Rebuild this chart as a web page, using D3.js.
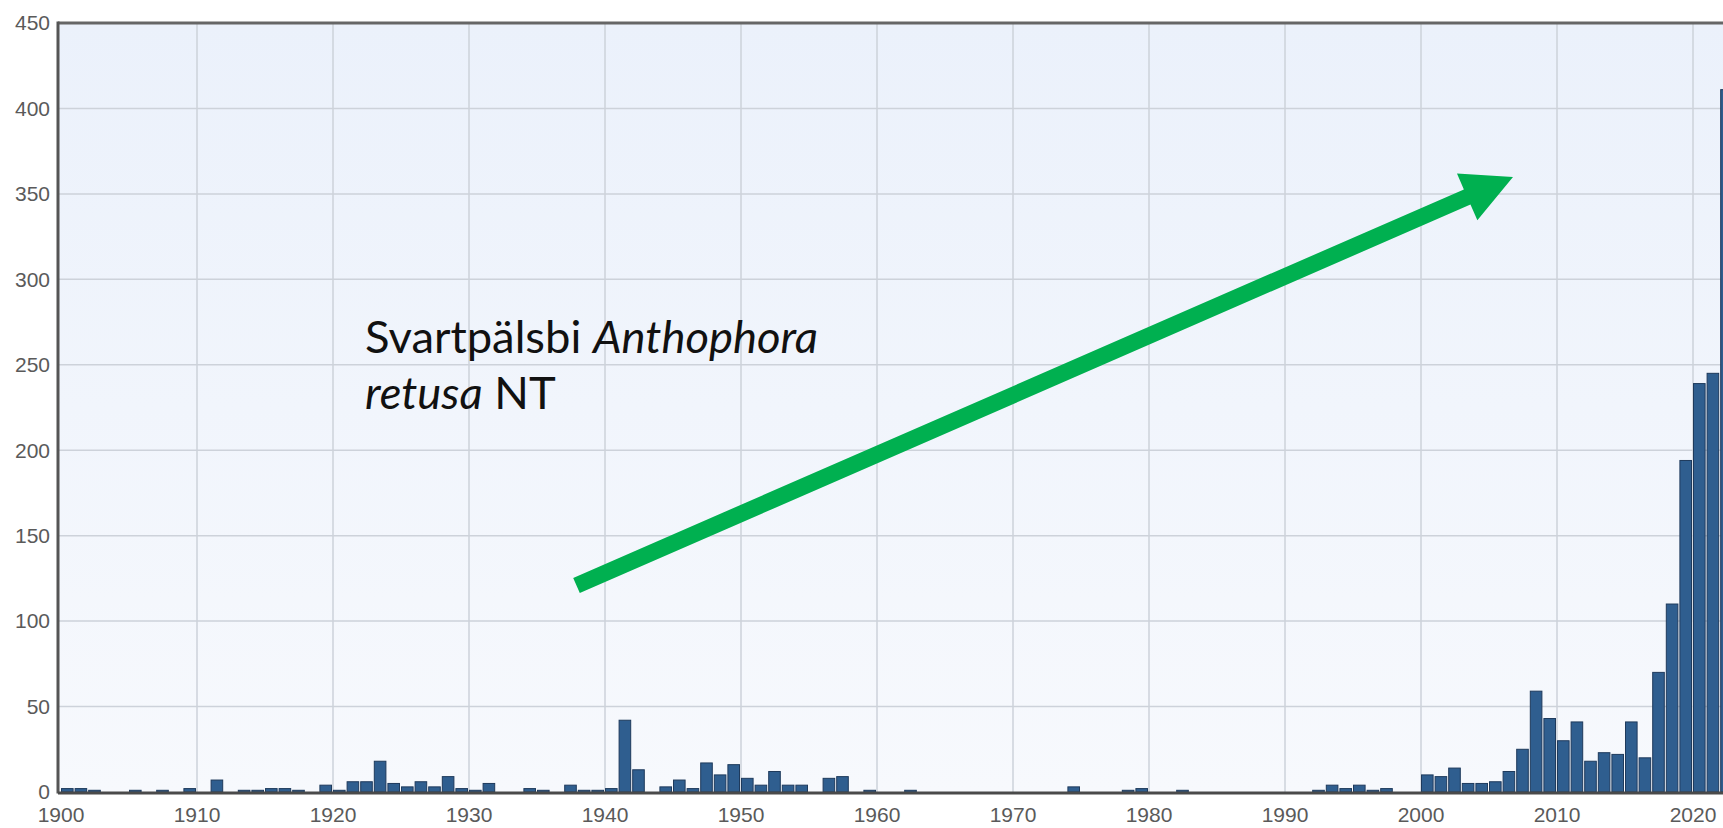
<!DOCTYPE html>
<html lang="sv">
<head>
  <meta charset="UTF-8">
  <title>Svartpälsbi Anthophora retusa</title>
  <script src="https://d3js.org/d3.v7.min.js"></script>
  <style>
    body {
      margin: 0;
      padding: 0;
      background: #fff;
      overflow: hidden;
    }
    .tick-label {
      font-family: "Liberation Sans", Arial, sans-serif;
      font-size: 21px;
      fill: #5a5a5a;
    }
    .grid line {
      stroke: #cdd2da;
      stroke-width: 1.5px;
    }
    .bar {
      fill: #2f5e8f;
      stroke: #1e3a5c;
      stroke-width: 1px;
    }
    .note {
      font-family: Lato, "Open Sans", sans-serif;
      fill: #111;
    }
  </style>
</head>
<body>
  <div id="chart"></div>

  <script>
// observations per year, 1900 -> 2022
const years = d3.range(1900, 2023);
const counts = [
  2, 2, 1, 0, 0, 1, 0, 1, 0, 2,        // 1900-1909
  0, 7, 0, 1, 1, 2, 2, 1, 0, 4,        // 1910-1919
  1, 6, 6, 18, 5, 3, 6, 3, 9, 2,       // 1920-1929
  1, 5, 0, 0, 2, 1, 0, 4, 1, 1,        // 1930-1939
  2, 42, 13, 0, 3, 7, 2, 17, 10, 16,   // 1940-1949
  8, 4, 12, 4, 4, 0, 8, 9, 0, 1,       // 1950-1959
  0, 0, 1, 0, 0, 0, 0, 0, 0, 0,        // 1960-1969
  0, 0, 0, 0, 3, 0, 0, 0, 1, 2,        // 1970-1979
  0, 0, 1, 0, 0, 0, 0, 0, 0, 0,        // 1980-1989
  0, 0, 1, 4, 2, 4, 1, 2, 0, 0,        // 1990-1999
  10, 9, 14, 5, 5, 6, 12, 25, 59, 43,  // 2000-2009
  30, 41, 18, 23, 22, 41, 20, 70, 110, 194, // 2010-2019
  239, 245, 411                        // 2020-2022
];
const xTicks = [1900, 1910, 1920, 1930, 1940, 1950, 1960, 1970, 1980, 1990, 2000, 2010, 2020];
const yTicks = [0, 50, 100, 150, 200, 250, 300, 350, 400, 450];

const width = 1723, height = 828;
const plotLeft = 58, plotTop = 23, plotBottom = 792;

const x = d3.scaleLinear().domain([1900, 2020]).range([61, 1693]);
const y = d3.scaleLinear().domain([0, 450]).range([plotBottom, plotTop]);

const svg = d3.select("#chart").append("svg")
  .attr("width", width)
  .attr("height", height);

const defs = svg.append("defs");
const grad = defs.append("linearGradient")
  .attr("id", "bg").attr("x1", 0).attr("y1", 0).attr("x2", 0).attr("y2", 1);
grad.append("stop").attr("offset", "0%").attr("stop-color", "#ebf1fb");
grad.append("stop").attr("offset", "100%").attr("stop-color", "#f7f9fd");

// plot background
svg.append("rect")
  .attr("x", plotLeft).attr("y", plotTop)
  .attr("width", width - plotLeft + 10).attr("height", plotBottom - plotTop)
  .attr("fill", "url(#bg)");

// grid
const grid = svg.append("g").attr("class", "grid");
grid.selectAll(".gy").data(yTicks.slice(1, -1)).join("line")
  .attr("x1", plotLeft).attr("x2", width + 10)
  .attr("y1", d => y(d)).attr("y2", d => y(d));
grid.selectAll(".gx").data(xTicks.slice(1)).join("line")
  .attr("x1", d => x(d)).attr("x2", d => x(d))
  .attr("y1", plotTop).attr("y2", plotBottom);

// bars
const barData = years.map((yr, i) => ({ year: yr, n: counts[i] })).filter(d => d.n > 0);
svg.append("g").selectAll("rect").data(barData).join("rect")
  .attr("class", "bar")
  .attr("x", d => x(d.year) + 0.5)
  .attr("width", d => x(d.year + 1) - x(d.year) - 2)
  .attr("y", d => y(d.n))
  .attr("height", d => y(0) - y(d.n));

// frame
svg.append("line")
  .attr("x1", plotLeft).attr("x2", width + 10)
  .attr("y1", plotTop).attr("y2", plotTop)
  .attr("stroke", "#666").attr("stroke-width", 3);
svg.append("line")
  .attr("x1", plotLeft).attr("x2", plotLeft)
  .attr("y1", plotTop - 1.5).attr("y2", plotBottom + 1.5)
  .attr("stroke", "#555").attr("stroke-width", 3);
svg.append("line")
  .attr("x1", plotLeft).attr("x2", width + 10)
  .attr("y1", plotBottom + 1).attr("y2", plotBottom + 1)
  .attr("stroke", "#4a4a4a").attr("stroke-width", 3);

// tick labels
svg.append("g").selectAll("text").data(yTicks).join("text")
  .attr("class", "tick-label")
  .attr("x", 50)
  .attr("y", d => y(d))
  .attr("dy", "0.35em")
  .attr("text-anchor", "end")
  .text(d => d);

svg.append("g").selectAll("text").data(xTicks).join("text")
  .attr("class", "tick-label")
  .attr("x", d => x(d))
  .attr("y", 822)
  .attr("text-anchor", "middle")
  .text(d => d);

// annotation text
const note = svg.append("text").attr("class", "note").attr("x", 365).attr("y", 353);
note.append("tspan").text("Svartpälsbi ");
note.append("tspan").attr("font-style", "italic").text("Anthophora");
const note2 = svg.append("text").attr("class", "note").attr("x", 365).attr("y", 409);
note2.append("tspan").attr("font-style", "italic").text("retusa");
note2.append("tspan").text(" NT");

// fit first line to the width seen in the picture
note.style("font-size", "40px");
const fs = 40 * 453 / note.node().getComputedTextLength();
note.style("font-size", fs + "px");
note2.style("font-size", fs + "px");

// green arrow
const start = [576.5, 585.5], tip = [1513, 177];
const shaftW = 16.5, headW = 51, headL = 50;
const dx = tip[0] - start[0], dy = tip[1] - start[1];
const len = Math.hypot(dx, dy);
const ux = dx / len, uy = dy / len, px = -uy, py = ux;
const bx = tip[0] - ux * headL, by = tip[1] - uy * headL;
const pts = [
  [start[0] + px * shaftW / 2, start[1] + py * shaftW / 2],
  [bx + px * shaftW / 2, by + py * shaftW / 2],
  [bx + px * headW / 2, by + py * headW / 2],
  tip,
  [bx - px * headW / 2, by - py * headW / 2],
  [bx - px * shaftW / 2, by - py * shaftW / 2],
  [start[0] - px * shaftW / 2, start[1] - py * shaftW / 2]
];
svg.append("path")
  .attr("d", d3.line()(pts) + "Z")
  .attr("fill", "#00b050");
  </script>
</body>
</html>
